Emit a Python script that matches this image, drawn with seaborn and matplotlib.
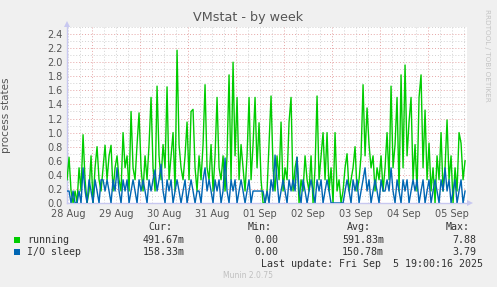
import numpy as np
import pandas as pd
import matplotlib
matplotlib.use("Agg")
import matplotlib.pyplot as plt
from matplotlib.patches import Rectangle
import seaborn as sns

# ---------------- data (hourly samples, days since 28 Aug 00:00) ----------------
start_day = 0.48
step_day = 1.0 / 24.0

running = [
    0.33, 0.65, 0.17, 0.0, 0.17, 0.0, 0.5, 0.17, 0.97, 0.33,
    0.0, 0.17, 0.67, 0.0, 0.5, 0.8, 0.33, 0.17, 0.5, 0.82,
    0.33, 0.67, 0.82, 0.17, 0.5, 0.67, 0.33, 0.17, 1.0, 0.5,
    0.67, 0.17, 1.3, 0.5, 0.33, 0.83, 1.28, 0.5, 0.17, 0.67,
    0.33, 0.83, 1.5, 0.5, 0.17, 1.66, 0.67, 0.33, 0.83, 0.5,
    1.65, 0.33, 0.67, 1.0, 0.17, 2.17, 0.83, 0.5, 0.33, 0.67,
    1.15, 0.33, 1.3, 1.33, 0.5, 0.17, 0.67, 0.33, 0.83, 1.68,
    0.5, 0.33, 0.83, 0.17, 0.67, 1.5, 0.5, 0.33, 0.67, 0.17,
    0.67, 1.82, 0.33, 2.0, 0.67, 1.5, 0.33, 0.83, 0.5, 0.17,
    0.67, 1.5, 0.33, 0.83, 1.5, 0.5, 1.14, 0.33, 0.0, 0.0,
    0.17, 0.83, 1.52, 0.5, 0.17, 0.67, 0.33, 1.15, 0.17, 0.5,
    0.33, 1.15, 1.5, 0.17, 0.5, 0.65, 0.0, 0.33, 0.17, 0.67,
    0.33, 0.17, 0.67, 0.0, 0.5, 1.52, 0.33, 0.67, 1.0, 0.33,
    1.0, 0.17, 0.5, 0.0, 1.0, 0.17, 0.33, 0.0, 0.17, 0.5,
    0.7, 0.17, 0.33, 0.5, 0.8, 0.17, 0.33, 0.67, 1.68, 0.67,
    1.35, 0.83, 0.5, 0.67, 0.17, 0.5, 0.33, 0.67, 0.17, 0.5,
    1.0, 0.33, 1.66, 0.5, 0.83, 1.5, 0.17, 1.82, 0.5, 1.96,
    0.67, 1.15, 1.5, 0.33, 0.83, 0.17, 1.5, 1.82, 0.5, 1.32,
    0.33, 0.85, 0.17, 0.5, 0.0, 0.67, 0.33, 1.0, 0.17, 0.5,
    1.18, 0.33, 0.67, 0.0, 0.5, 0.17, 1.0, 0.85, 0.33, 0.6,
]

io_sleep = [
    0.17, 0.17, 0.0, 0.17, 0.0, 0.0, 0.17, 0.0, 0.5, 0.17,
    0.0, 0.33, 0.17, 0.0, 0.33, 0.17, 0.0, 0.33, 0.33, 0.17,
    0.33, 0.17, 0.0, 0.33, 0.17, 0.5, 0.17, 0.0, 0.33, 0.17,
    0.33, 0.0, 0.17, 0.33, 0.17, 0.0, 0.33, 0.17, 0.33, 0.17,
    0.0, 0.33, 0.17, 0.33, 0.47, 0.17, 0.33, 0.55, 0.17, 0.0,
    0.33, 0.17, 0.33, 0.0, 0.17, 0.33, 0.17, 0.0, 0.17, 0.33,
    0.0, 0.17, 0.33, 0.17, 0.0, 0.17, 0.17, 0.0, 0.33, 0.5,
    0.17, 0.33, 0.17, 0.0, 0.33, 0.17, 0.33, 0.0, 0.17, 0.64,
    0.17, 0.0, 0.33, 0.17, 0.33, 0.0, 0.17, 0.33, 0.17, 0.0,
    0.17, 0.33, 0.0, 0.17, 0.17, 0.17, 0.17, 0.17, 0.17, 0.0,
    0.17, 0.0, 0.33, 0.17, 0.68, 0.33, 0.0, 0.17, 0.33, 0.17,
    0.0, 0.33, 0.17, 0.33, 0.17, 0.65, 0.17, 0.0, 0.33, 0.17,
    0.0, 0.17, 0.33, 0.17, 0.0, 0.33, 0.17, 0.33, 0.0, 0.17,
    0.33, 0.17, 0.0, 0.0, 0.0, 0.0, 0.0, 0.0, 0.0, 0.17,
    0.33, 0.17, 0.0, 0.33, 0.17, 0.33, 0.0, 0.17, 0.33, 0.5,
    0.17, 0.33, 0.0, 0.17, 0.33, 0.17, 0.0, 0.33, 0.17, 0.17,
    0.33, 0.17, 0.5, 0.17, 0.0, 0.33, 0.17, 0.0, 0.33, 0.17,
    0.33, 0.0, 0.17, 0.33, 0.17, 0.33, 0.0, 0.17, 0.33, 0.0,
    0.17, 0.33, 0.0, 0.17, 0.33, 0.17, 0.0, 0.33, 0.17, 0.5,
    0.17, 0.33, 0.0, 0.17, 0.33, 0.0, 0.17, 0.33, 0.0, 0.17,
]

day_labels = ["28 Aug", "29 Aug", "30 Aug", "31 Aug", "01 Sep",
              "02 Sep", "03 Sep", "04 Sep", "05 Sep"]
y_ticks = [0.0, 0.2, 0.4, 0.6, 0.8, 1.0, 1.2, 1.4, 1.6, 1.8, 2.0, 2.2, 2.4]

series_names = ["running", "I/O sleep"]
series_colors = ["#00cc00", "#0066b3"]
legend_cur = ["491.67m", "158.33m"]
legend_min = ["0.00", "0.00"]
legend_avg = ["591.83m", "150.78m"]
legend_max = ["7.88", "3.79"]

# ---------------- build data frame ----------------
n = len(running)
days = start_day + np.arange(n) * step_day
df = pd.concat([
    pd.DataFrame({"day": days, "value": running, "series": series_names[0]}),
    pd.DataFrame({"day": days, "value": io_sleep, "series": series_names[1]}),
])

# ---------------- figure ----------------
BG = "#f0f0f0"
fig = plt.figure(figsize=(4.97, 2.87), dpi=100, facecolor=BG)
W, H = 497.0, 287.0
ax = fig.add_axes([67 / W, 1 - 203 / H, 400 / W, 176 / H])
ax.set_facecolor("white")

x0, x1 = 0.479, 0.479 + 400 / 48.0
ax.set_xlim(x0, x1)
ax.set_ylim(0, 2.5)

# grid: minor grey, major red (dotted)
dot = (0, (1, 2))
for h in np.arange(0, 9, 0.25):
    if x0 < h < x1 and abs(h - round(h)) > 1e-6:
        ax.axvline(h, color="#d2d2d2", lw=0.7, ls=dot, zorder=0)
for d in range(1, 9):
    ax.axvline(d, color="#e6a6a6", lw=0.7, ls=dot, zorder=0)
for yv in np.arange(0.1, 2.55, 0.2):
    ax.axhline(yv, color="#d2d2d2", lw=0.7, ls=dot, zorder=0)
for yv in y_ticks[1:]:
    ax.axhline(yv, color="#e6a6a6", lw=0.7, ls=dot, zorder=0)

sns.lineplot(data=df, x="day", y="value", hue="series",
             palette=dict(zip(series_names, series_colors)),
             hue_order=series_names, linewidth=1.0, ax=ax,
             legend=False, zorder=3)

ax.set_xlabel("")
ax.set_ylabel("process states", fontsize=7.5, color="#555555")
ax.yaxis.set_label_coords(-56 / 400.0, 0.5)
ax.set_xticks([d + 0.5 for d in range(len(day_labels))])
ax.set_xticklabels(day_labels)
ax.set_yticks(y_ticks)
ax.set_yticklabels([f"{v:.1f}" for v in y_ticks])
ax.tick_params(axis="y", length=0, labelsize=7, colors="#555555", pad=3)
ax.tick_params(axis="x", length=0, labelsize=7, colors="#555555", pad=4)

for s in ["top", "right"]:
    ax.spines[s].set_visible(False)
for s in ["left", "bottom"]:
    ax.spines[s].set_color("#c8c8f0")
    ax.spines[s].set_linewidth(1.0)

# axis arrows
fig.patches.append(plt.Polygon([[64 / W, 1 - 27 / H], [70 / W, 1 - 27 / H], [67 / W, 1 - 21 / H]],
                               closed=True, transform=fig.transFigure,
                               facecolor="#c8c8f0", edgecolor="none"))
fig.patches.append(plt.Polygon([[467 / W, 1 - 200 / H], [467 / W, 1 - 206 / H], [473 / W, 1 - 203 / H]],
                               closed=True, transform=fig.transFigure,
                               facecolor="#c8c8f0", edgecolor="none"))

# title & side text
fig.text(248 / W, 1 - 17 / H, "VMstat - by week", ha="center", va="center",
         fontsize=9.2, color="#555555")
fig.text(487 / W, 1 - 55 / H, "RRDTOOL / TOBI OETIKER", ha="center", va="center",
         rotation=270, fontsize=5.2, color="#c4c4c4")

# legend (monospace)
mono = "DejaVu Sans Mono"
fs = 7.2
tc = "#333333"
def fy(y):
    return 1 - y / H
fig.text(172 / W, fy(227), "Cur:", ha="right", va="center", family=mono, fontsize=fs, color=tc)
fig.text(272 / W, fy(227), "Min:", ha="right", va="center", family=mono, fontsize=fs, color=tc)
fig.text(371 / W, fy(227), "Avg:", ha="right", va="center", family=mono, fontsize=fs, color=tc)
fig.text(470 / W, fy(227), "Max:", ha="right", va="center", family=mono, fontsize=fs, color=tc)
for k, yrow in enumerate([240, 252]):
    fig.patches.append(Rectangle((14 / W, fy(yrow + 3)), 6 / W, 6 / H,
                                 transform=fig.transFigure,
                                 facecolor=series_colors[k], edgecolor="none"))
    fig.text(27 / W, fy(yrow), series_names[k], ha="left", va="center",
             family=mono, fontsize=fs, color=tc)
    fig.text(185 / W, fy(yrow), legend_cur[k], ha="right", va="center", family=mono, fontsize=fs, color=tc)
    fig.text(278 / W, fy(yrow), legend_min[k], ha="right", va="center", family=mono, fontsize=fs, color=tc)
    fig.text(384 / W, fy(yrow), legend_avg[k], ha="right", va="center", family=mono, fontsize=fs, color=tc)
    fig.text(476 / W, fy(yrow), legend_max[k], ha="right", va="center", family=mono, fontsize=fs, color=tc)
fig.text(483 / W, fy(264), "Last update: Fri Sep  5 19:00:16 2025", ha="right", va="center",
         family=mono, fontsize=fs, color=tc)
fig.text(248 / W, fy(276), "Munin 2.0.75", ha="center", va="center",
         fontsize=5.5, color="#c0c0c0")

fig.savefig("out.png", dpi=100, facecolor=BG)
